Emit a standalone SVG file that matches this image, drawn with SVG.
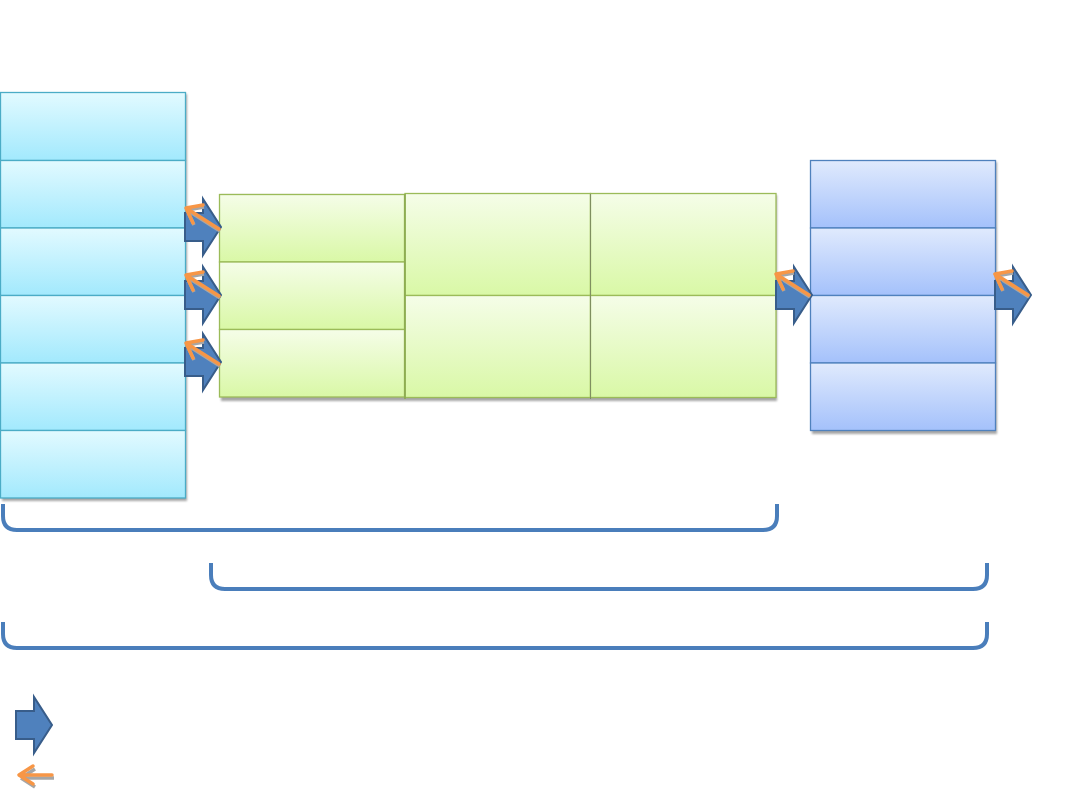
<svg xmlns="http://www.w3.org/2000/svg" width="1080" height="810" viewBox="0 0 1080 810">
<defs>
<linearGradient id="gCyan" x1="0" y1="0" x2="0" y2="1"><stop offset="0" stop-color="#e2faff"/><stop offset="1" stop-color="#a2e9fd"/></linearGradient>
<linearGradient id="gGreen" x1="0" y1="0" x2="0" y2="1"><stop offset="0" stop-color="#f5fde8"/><stop offset="1" stop-color="#d9f8a6"/></linearGradient>
<linearGradient id="gBlue" x1="0" y1="0" x2="0" y2="1"><stop offset="0" stop-color="#e0eafd"/><stop offset="1" stop-color="#a4c1fb"/></linearGradient>
<filter id="blur" x="-10%" y="-10%" width="120%" height="120%"><feGaussianBlur stdDeviation="0.8"/></filter>
<path id="barrow" d="M0,-14 L18,-14 L18,-28 L36,0 L18,28 L18,14 L0,14 Z"/>
<g id="oarrow">
<path d="M0,0 L-33,-21 M-33,-21 L-16,-24 M-33,-21 L-26,-6" stroke="#a6a6a6" stroke-width="3.5" fill="none" transform="translate(1,2)"/>
<path d="M0,0 L-33,-21 M-33,-21 L-16,-24 M-33,-21 L-26,-6" stroke="#f79646" stroke-width="3.5" fill="none" stroke-linecap="round"/>
</g>
</defs>
<style>
.cy{fill:url(#gCyan);stroke:#4bacc6;stroke-width:1.3}
.gr{fill:url(#gGreen);stroke:#9bbb59;stroke-width:1.3}
.bl{fill:url(#gBlue);stroke:#4f81bd;stroke-width:1.3}
.sh{fill:#a6a6a6;filter:url(#blur)}
.ba{fill:#4f81bd;stroke:#385d8a;stroke-width:2}
.br{fill:none;stroke:#4a7ebb;stroke-width:4}
</style>
<rect width="1080" height="810" fill="#ffffff"/>
<g id="left-column">
<rect class="sh" x="2" y="94" width="185" height="407"/>
<rect class="cy" x="0.5" y="92.5" width="185" height="68"/>
<rect class="cy" x="0.5" y="160.5" width="185" height="67.5"/>
<rect class="cy" x="0.5" y="228" width="185" height="67.5"/>
<rect class="cy" x="0.5" y="295.5" width="185" height="67.5"/>
<rect class="cy" x="0.5" y="363" width="185" height="67.5"/>
<rect class="cy" x="0.5" y="430.5" width="185" height="67.5"/>
</g>
<g id="middle-block">
<rect class="sh" x="221" y="195" width="556" height="206"/>
<rect class="gr" x="219.5" y="194.5" width="185" height="67.5"/>
<rect class="gr" x="219.5" y="262" width="185" height="67.5"/>
<rect class="gr" x="219.5" y="329.5" width="185" height="67.5"/>
<rect class="gr" x="405" y="193.5" width="185.5" height="102"/>
<rect class="gr" x="405" y="295.5" width="185.5" height="102"/>
<rect class="gr" x="590.5" y="193.5" width="185.5" height="102"/>
<rect class="gr" x="590.5" y="295.5" width="185.5" height="102"/>
<line x1="405" y1="194" x2="405" y2="399" stroke="#8aa84f" stroke-width="1.5"/>
<line x1="590.5" y1="194" x2="590.5" y2="399" stroke="#7f8f60" stroke-width="1"/>
</g>
<g id="right-column">
<rect class="sh" x="812" y="162" width="185" height="272"/>
<rect class="bl" x="810.5" y="160.5" width="185" height="67.5"/>
<rect class="bl" x="810.5" y="228" width="185" height="67.5"/>
<rect class="bl" x="810.5" y="295.5" width="185" height="67.5"/>
<rect class="bl" x="810.5" y="363" width="185" height="67.5"/>
</g>
<g id="connectors">
<use href="#barrow" class="ba" transform="translate(185,227)"/>
<use href="#barrow" class="ba" transform="translate(185,295)"/>
<use href="#barrow" class="ba" transform="translate(185,362)"/>
<use href="#barrow" class="ba" transform="translate(776,295)"/>
<use href="#barrow" class="ba" transform="translate(995,295)"/>
<use href="#oarrow" transform="translate(219,229)"/>
<use href="#oarrow" transform="translate(219,296)"/>
<use href="#oarrow" transform="translate(219,364)"/>
<use href="#oarrow" transform="translate(809,295)"/>
<use href="#oarrow" transform="translate(1028,295)"/>
</g>
<g id="brackets">
<path class="br" d="M3,504 L3,516 Q3,530 17,530 L763,530 Q777,530 777,516 L777,504"/>
<path class="br" d="M211,563 L211,575 Q211,589 225,589 L973,589 Q987,589 987,575 L987,563"/>
<path class="br" d="M3,622 L3,634 Q3,648 17,648 L973,648 Q987,648 987,634 L987,622"/>
</g>
<g id="legend">
<use href="#barrow" class="ba" transform="translate(16,725)"/>
<path d="M21,778 L54,778 M21,778 L35,769 M21,778 L35,787" stroke="#a6a6a6" stroke-width="3.5" fill="none"/>
<path d="M19,775 L52,775 M19,775 L33,766 M19,775 L33,784" stroke="#f79646" stroke-width="3.5" fill="none" stroke-linecap="round"/>
</g>
</svg>
